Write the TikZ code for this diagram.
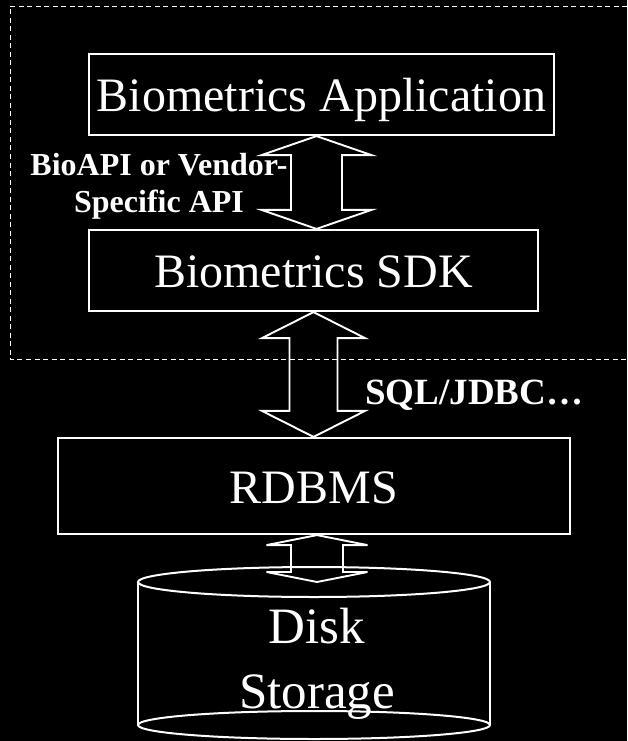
\documentclass[tikz,border=0pt]{standalone}
\usepackage{fontspec}
\setmainfont{Liberation Serif}
\usetikzlibrary{calc}
\tikzset{x=1pt, y=-1pt, % one unit per pixel, y runs downwards
layer/.style={draw, line width=2.2pt, inner sep=0pt, font=\fontsize{48}{56}\selectfont, text height=34pt, text depth=0pt}, % the boxes of the stack
biarrow/.style={draw, line width=1.9pt, line join=miter}, % hollow double arrows
note/.style={font=\bfseries\fontsize{32}{37}\selectfont, align=center, inner sep=0pt}, % labels beside the arrows
disk/.style={line width=2pt}, % the cylinder
frame/.style={dashed, dash pattern=on 5pt off 3.5pt, line width=0.9pt}, % the SDK side
}
% hollow double arrow: top tip, bottom tip, half head width, half shaft width, head length
\newcommand{\biarrow}[5]{%
  \draw[biarrow] let \p1=(#1), \p2=(#2) in
    (\p1) -- (\x1-#3,\y1-#5) -- (\x1-#4,\y1-#5) -- (\x1-#4,\y2+#5) -- (\x1-#3,\y2+#5) -- (\x1,\y2)
    -- (\x1+#3,\y2+#5) -- (\x1+#4,\y2+#5) -- (\x1+#4,\y1-#5) -- (\x1+#3,\y1-#5) -- cycle;}

\begin{document}
\begin{tikzpicture}[white]
    \fill[black] (0,0) rectangle (627,741);
    \useasboundingbox (0,0) rectangle (627,741);
    \draw[frame] (627,6) -| (10,359) -- (627,359);

    \node[layer, minimum width=465, minimum height=81] (app) at (321.5,94.5) {Biometrics Application};
    \node[layer, minimum width=449, minimum height=81] (sdk) at (313.5,270.5) {Biometrics SDK};
    \node[layer, minimum width=512, minimum height=96] (rdbms) at (314,486) {RDBMS};

    \coordinate (disktop) at (314,582);
    \coordinate (diskbot) at (314,725);
    \draw[disk] (disktop) ellipse [x radius=176, y radius=15];
    \draw[disk] (diskbot) ellipse [x radius=176, y radius=14];
    \draw[disk] ($(disktop)+(-176,0)$) -- ($(diskbot)+(-176,0)$)
                ($(disktop)+(176,0)$) -- ($(diskbot)+(176,0)$);
    \node[font=\fontsize{51}{65}\selectfont, align=center, inner sep=0pt] (store) at (317,663.5) {Disk\\Storage};

    \biarrow{$(app.south)+(-5,0)$}{sdk.north}{55pt}{25.5pt}{19pt}
    \biarrow{sdk.south}{rdbms.north}{51.5pt}{24pt}{26pt}
    \biarrow{$(rdbms.south)+(3,0)$}{disktop}{50.5pt}{26pt}{10pt}

    \node[note] (api) at (159,186) {BioAPI or Vendor-\\Specific API};
    \node[note, font=\bfseries\fontsize{37}{40}\selectfont, anchor=base west] (sql) at (365,404) {SQL/JDBC…};
\end{tikzpicture}
\end{document}
